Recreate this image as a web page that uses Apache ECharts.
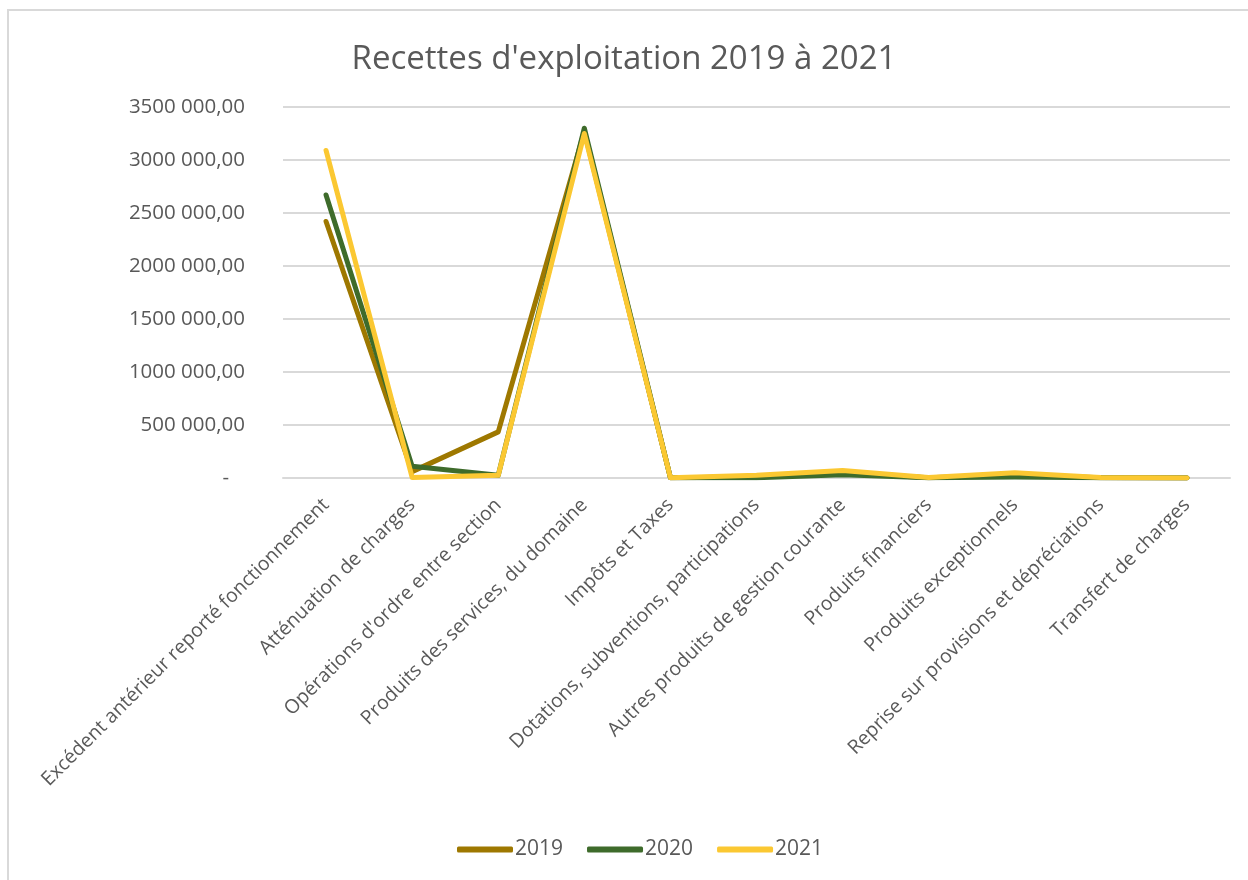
<!DOCTYPE html>
<html>
<head>
<meta charset="utf-8">
<script src="https://cdn.jsdelivr.net/npm/echarts@6/dist/echarts.min.js"></script>
<style>
html,body{margin:0;padding:0;background:#fff;}
#frame{position:absolute;left:7px;top:9px;width:1241px;height:871px;border-left:2px solid #d9d9d9;border-top:2px solid #d9d9d9;box-sizing:border-box;}
#c{position:absolute;left:0;top:0;width:1248px;height:880px;}
</style>
</head>
<body>
<div id="frame"></div>
<div id="c"></div>
<script>
const categories = [
  "Excédent antérieur reporté fonctionnement",
  "Atténuation de charges",
  "Opérations d'ordre entre section",
  "Produits des services, du domaine",
  "Impôts et Taxes",
  "Dotations, subventions, participations",
  "Autres produits de gestion courante",
  "Produits financiers",
  "Produits exceptionnels",
  "Reprise sur provisions et dépréciations",
  "Transfert de charges"
];
const values2019 = [2420000, 60000, 435000, 3270000, 3000, 10000, 50000, 3000, 30000, 2000, 0];
const values2020 = [2670000, 110000, 25000, 3300000, 3000, 2000, 30000, 3000, 10000, 2000, 0];
const values2021 = [3090000, 5000, 25000, 3250000, 3000, 25000, 70000, 5000, 50000, 5000, 0];
const yTickLabels = ["-   ", "500 000,00", "1000 000,00", "1500 000,00", "2000 000,00", "2500 000,00", "3000 000,00", "3500 000,00"];

const textColor = '#595959';
const font = 'Open Sans';
const chart = echarts.init(document.getElementById('c'), null, {renderer: 'canvas'});
function line(name, data, color) {
  return {
    name: name, type: 'line', data: data, symbol: 'none',
    lineStyle: {color: color, width: 5, cap: 'round', join: 'round'},
    itemStyle: {color: color}
  };
}
chart.setOption({
  animation: false,
  backgroundColor: 'transparent',
  title: {
    text: "Recettes d'exploitation 2019 à 2021",
    left: 'center', top: 38,
    textStyle: {color: textColor, fontFamily: font, fontSize: 33, fontWeight: 'normal'}
  },
  legend: {
    bottom: 15, left: 452,
    itemWidth: 56, itemHeight: 6, itemGap: 24,
    icon: 'roundRect',
    textStyle: {color: textColor, fontFamily: font, fontSize: 21, padding: [0, 0, 0, -3]},
    data: ['2019', '2020', '2021']
  },
  grid: {left: 283, right: 18, top: 107, bottom: 402, containLabel: false},
  xAxis: {
    type: 'category', data: categories, boundaryGap: true,
    axisLine: {show: true, lineStyle: {color: '#d9d9d9', width: 2}},
    axisTick: {show: false},
    axisLabel: {color: textColor, fontFamily: font, fontSize: 19.5, rotate: 45, margin: 24, interval: 0}
  },
  yAxis: {
    type: 'value', min: 0, max: 3500000, interval: 500000,
    axisLine: {show: false}, axisTick: {show: false},
    splitLine: {lineStyle: {color: '#d9d9d9', width: 2}},
    axisLabel: {
      color: textColor, fontFamily: font, fontSize: 20.5, margin: 38,
      formatter: function (v) { return yTickLabels[Math.round(v / 500000)]; }
    }
  },
  series: [
    line('2019', values2019, '#9E7800'),
    line('2020', values2020, '#3E6B2B'),
    line('2021', values2021, '#FBC832')
  ]
});
</script>
</body>
</html>
